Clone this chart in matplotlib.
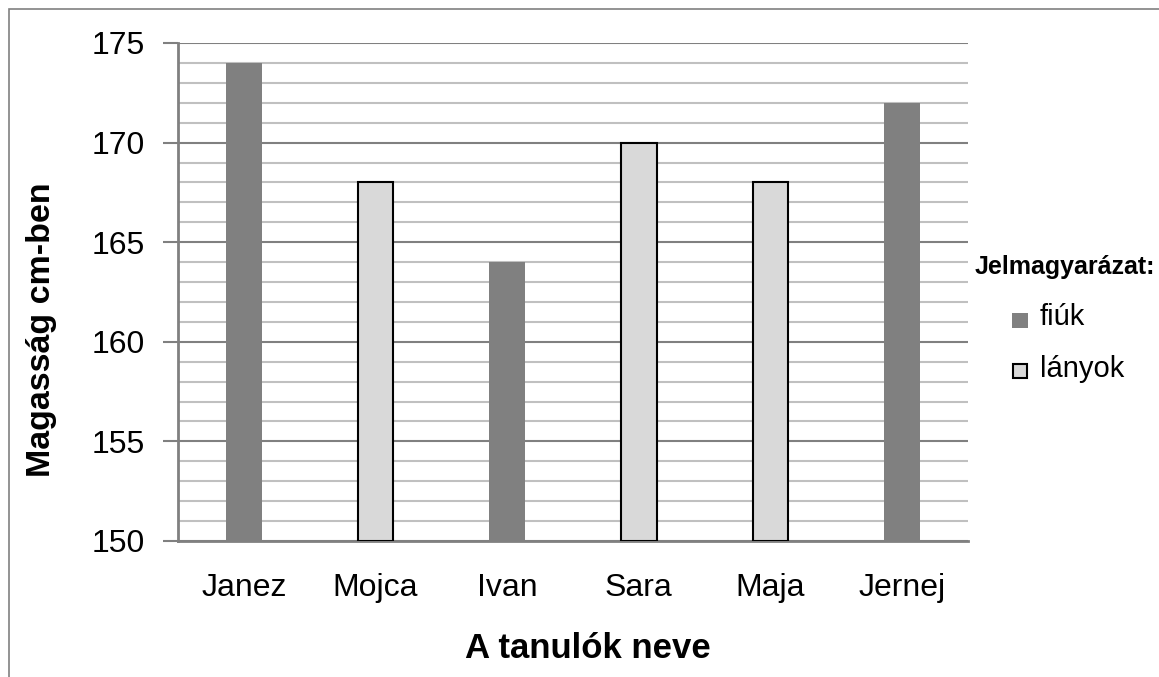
import matplotlib
matplotlib.use("Agg")
import matplotlib.pyplot as plt
from matplotlib.patches import Rectangle
from matplotlib.ticker import MultipleLocator

plt.rcParams['font.family'] = ['Liberation Sans', 'DejaVu Sans']

names = ["Janez", "Mojca", "Ivan", "Sara", "Maja", "Jernej"]
heights = [174, 168, 164, 170, 168, 172]
groups = ["fiúk", "lányok", "fiúk", "lányok", "lányok", "fiúk"]
yticks = [150, 155, 160, 165, 170, 175]

fig = plt.figure(figsize=(11.59, 6.77), dpi=100)
ax = fig.add_axes([178/1159, 1-541/677, (968-178)/1159, (541-43)/677])

ax.set_xlim(-0.5, len(names)-0.5)
ax.set_ylim(150, 175)
ax.yaxis.set_minor_locator(MultipleLocator(1))
ax.set_yticks(yticks)
ax.grid(which='minor', axis='y', color='#c0c0c0', linewidth=1.5, zorder=0)
ax.grid(which='major', axis='y', color='#808080', linewidth=1.5, zorder=0)
ax.set_axisbelow(True)

for i, (h, g) in enumerate(zip(heights, groups)):
    if g == "fiúk":
        ax.bar(i, h-150, bottom=150, width=0.27, color='#808080', edgecolor='none', zorder=3)
    else:
        ax.bar(i, h-150, bottom=150, width=0.27, color='#d9d9d9', edgecolor='black', linewidth=1.5, zorder=3)

ax.set_xticks(range(len(names)))
ax.set_xticklabels(names, fontsize=23)
ax.tick_params(axis='x', length=0, pad=23)
ax.tick_params(axis='y', which='major', length=11, width=1.5, color='#808080', labelsize=23, pad=13)
ax.tick_params(axis='y', which='minor', length=0)
for s in ['top', 'right']:
    ax.spines[s].set_visible(False)
ax.spines['left'].set_color('#808080')
ax.spines['left'].set_linewidth(2)
ax.spines['bottom'].set_color('#808080')
ax.spines['bottom'].set_linewidth(2)

fig.text(588/1159, 1-648/677, "A tanulók neve", fontsize=25, fontweight='bold', ha='center', va='center')
fig.text(42/1159, 1-330/677, "Magasság cm-ben", fontsize=24.5, fontweight='bold', ha='center', va='center',
         rotation=90)

# legend
fig.text(975/1159, 1-267/677, "Jelmagyarázat:", fontsize=18, fontweight='bold', va='center', ha='left')
fig.patches.append(Rectangle((1012/1159, 1-328/677), 16/1159, 15/677, transform=fig.transFigure,
                             facecolor='#808080', edgecolor='none'))
fig.text(1040/1159, 1-317/677, "fiúk", fontsize=21, va='center', ha='left')
fig.patches.append(Rectangle((1013/1159, 1-378/677), 14/1159, 14/677, transform=fig.transFigure,
                             facecolor='#d9d9d9', edgecolor='black', linewidth=1.5))
fig.text(1040/1159, 1-369/677, "lányok", fontsize=21, va='center', ha='left')

# outer border
fig.patches.append(Rectangle((9/1159, -0.01), 1.2, 1-9/677+0.01, transform=fig.transFigure,
                             facecolor='none', edgecolor='#808080', linewidth=1.2))

fig.savefig("out.png", dpi=100)
